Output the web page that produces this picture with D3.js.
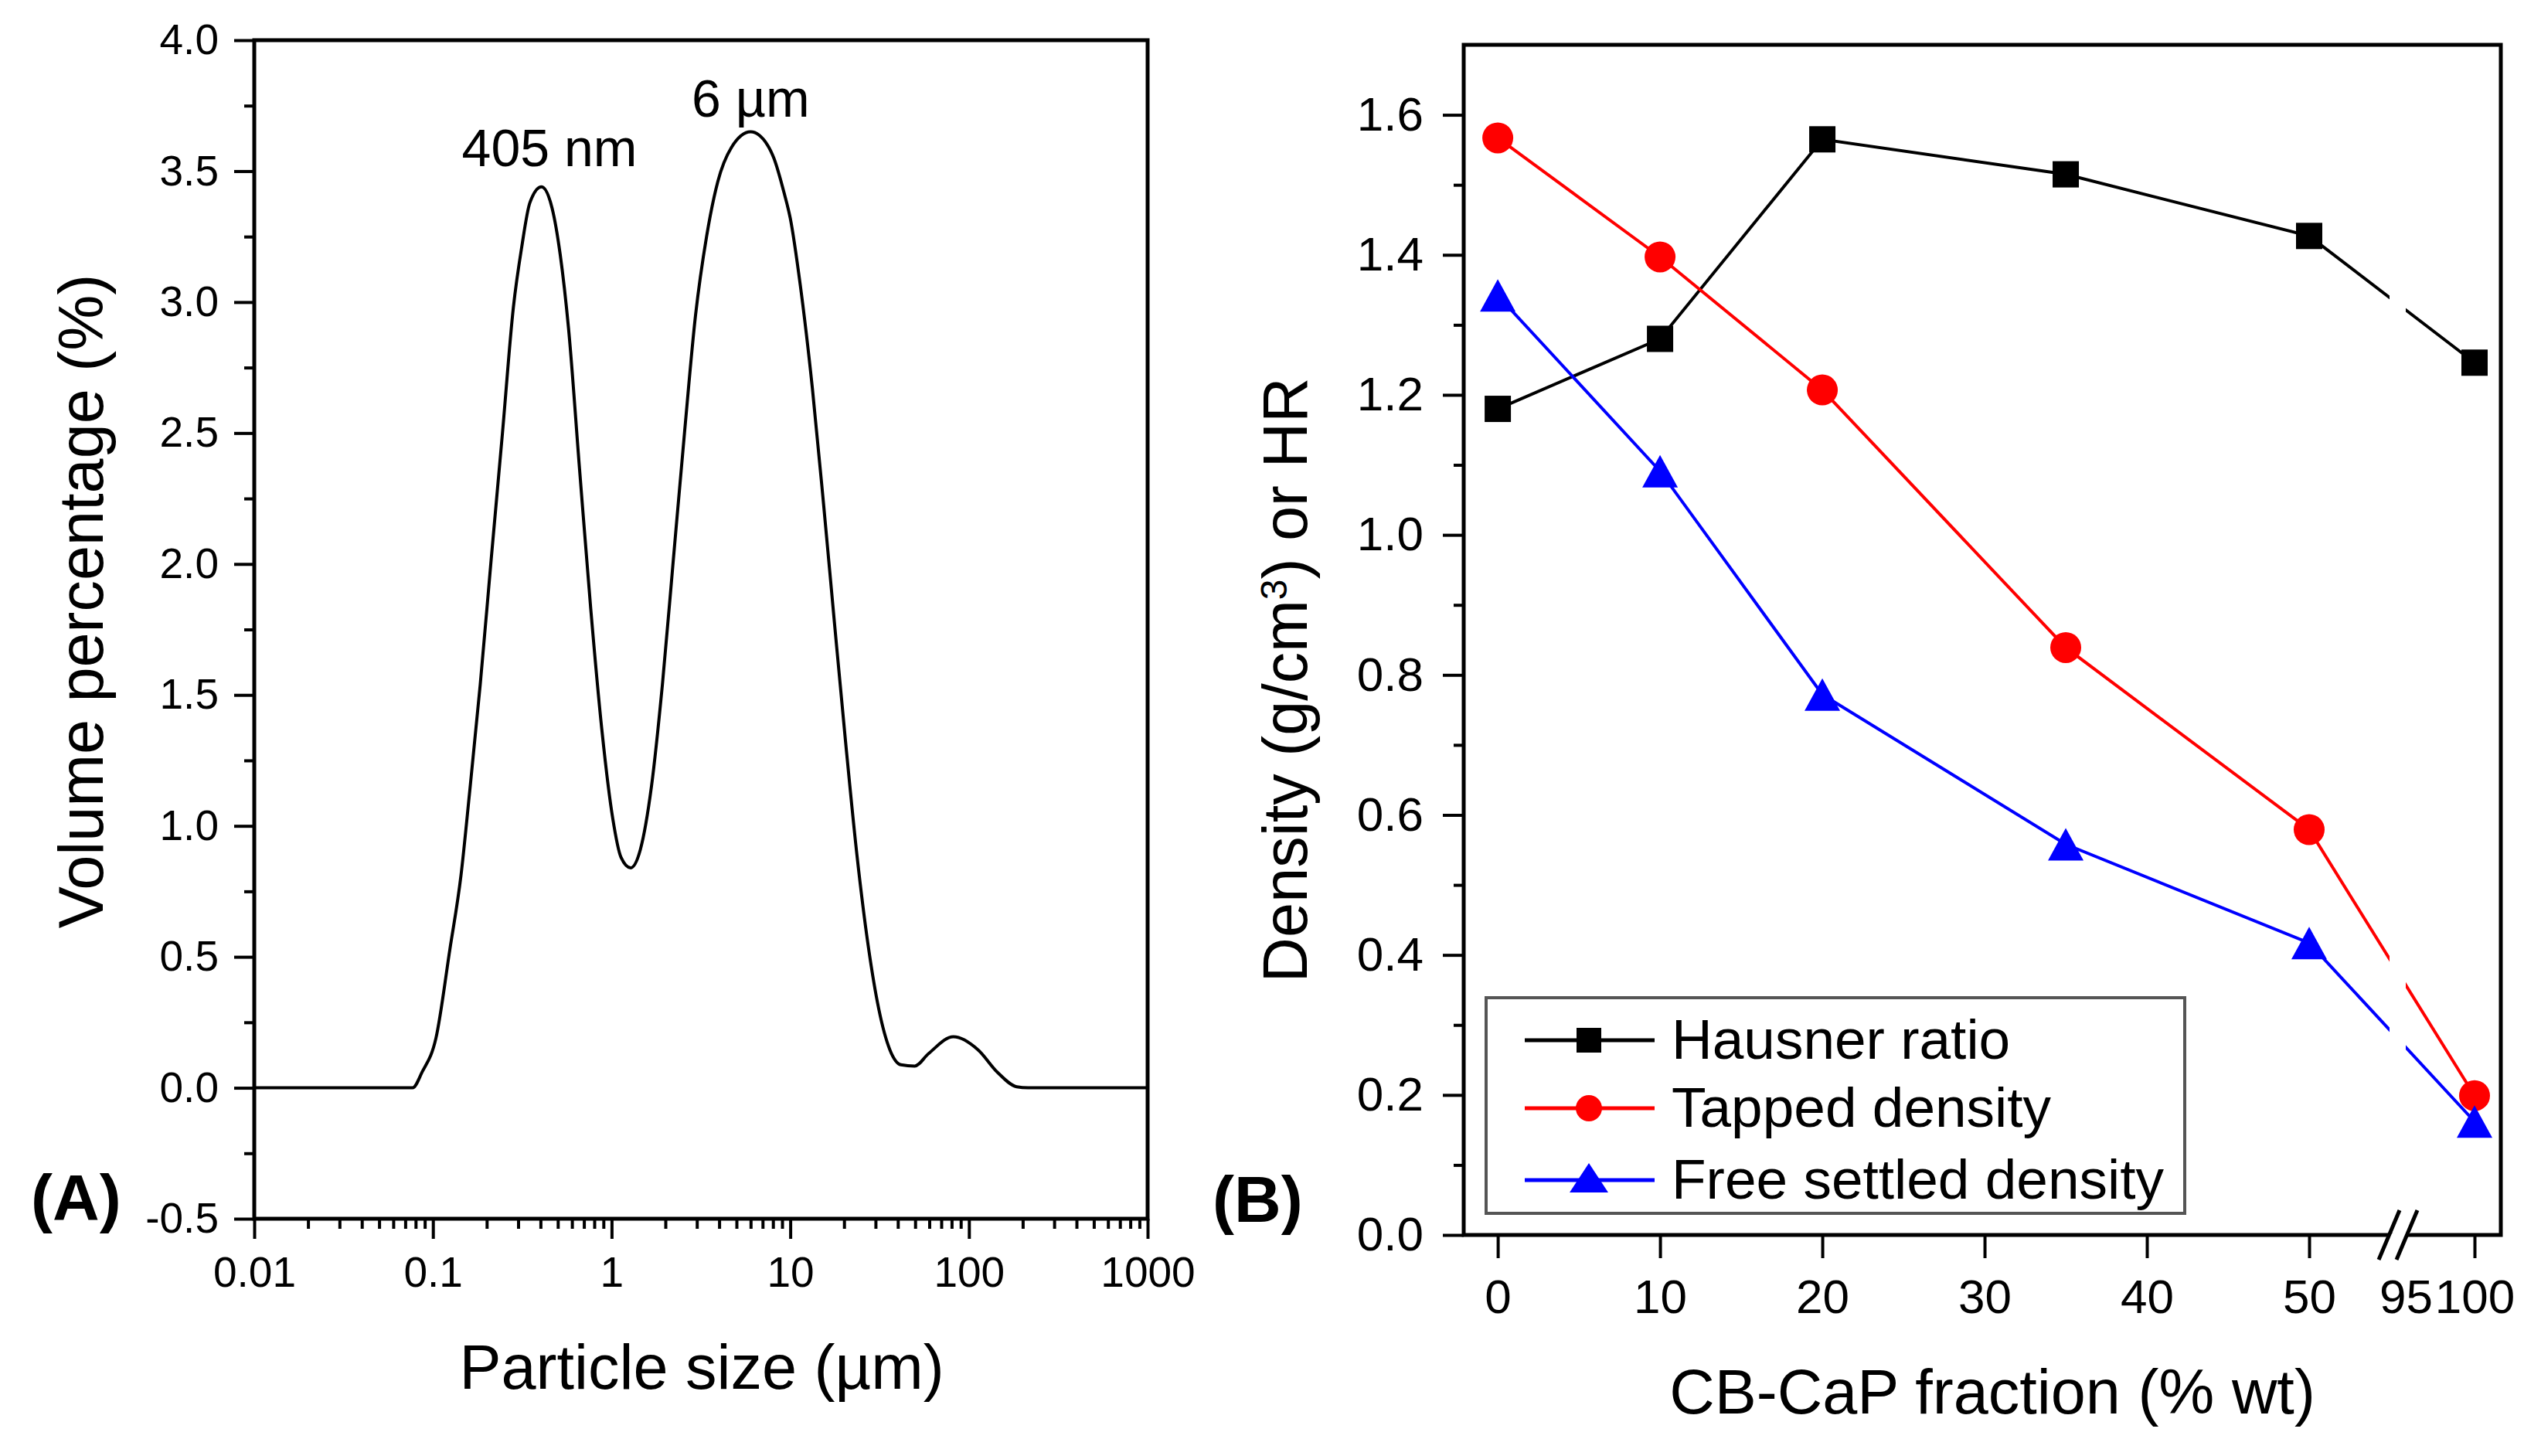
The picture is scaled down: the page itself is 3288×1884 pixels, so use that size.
<!DOCTYPE html>
<html><head><meta charset="utf-8">
<script src="https://cdn.jsdelivr.net/npm/d3@7"></script>
<style>
html,body{margin:0;padding:0;background:#fff;}
svg{display:block;}
text{font-family:"Liberation Sans", Arial, sans-serif; fill:#000;}
</style>
</head><body>
<svg id="chart" width="3288" height="1884"></svg>
<script>
// ---------- Panel A: particle size distribution ----------
const sizeUm = [0.01, 0.077, 0.087, 0.104, 0.1245, 0.1435, 0.160, 0.184, 0.212, 0.245, 0.282, 0.314, 0.349, 0.405, 0.464, 0.516, 0.574, 0.662, 0.764, 0.881, 1.014, 1.129, 1.279, 1.449, 1.671, 1.925, 2.218, 2.558, 2.95, 3.40, 3.93, 4.68, 6.0, 7.45, 8.09, 9.21, 10.0, 11.4, 13.3, 15.4, 17.7, 20.4, 23.6, 27.2, 31.3, 36.1, 41.6, 49.7, 59.3, 81.8, 112.5, 144, 185, 214, 1000];
const volumePct = [0, 0, 0.06, 0.19, 0.53, 0.81, 1.12, 1.54, 2.02, 2.50, 2.98, 3.21, 3.38, 3.44, 3.36, 3.18, 2.90, 2.36, 1.83, 1.37, 1.03, 0.88, 0.84, 0.91, 1.15, 1.54, 2.02, 2.50, 2.95, 3.25, 3.46, 3.59, 3.65, 3.60, 3.55, 3.42, 3.32, 3.06, 2.67, 2.22, 1.77, 1.32, 0.89, 0.55, 0.30, 0.145, 0.088, 0.083, 0.13, 0.195, 0.145, 0.06, 0.004, 0, 0];
const peakLabels = ["405 nm", "6 µm"];
const xTicksA = [0.01, 0.1, 1, 10, 100, 1000];
const yTicksA = [-0.5, 0.0, 0.5, 1.0, 1.5, 2.0, 2.5, 3.0, 3.5, 4.0];
const xTitleA = "Particle size (µm)";
const yTitleA = "Volume percentage (%)";

// ---------- Panel B: densities ----------
const cbFraction = [0, 10, 20, 35, 50, 100];
const hausner = [1.18, 1.28, 1.565, 1.515, 1.427, 1.246];
const tapped = [1.567, 1.397, 1.207, 0.839, 0.579, 0.199];
const freeSettled = [1.342, 1.091, 0.772, 0.558, 0.417, 0.162];
const seriesNames = ["Hausner ratio", "Tapped density", "Free settled density"];
const xTicksB = [0, 10, 20, 30, 40, 50, 95, 100];
const yTicksB = [0.0, 0.2, 0.4, 0.6, 0.8, 1.0, 1.2, 1.4, 1.6];
const xTitleB = "CB-CaP fraction (% wt)";

const svg = d3.select("#chart");
svg.append("rect").attr("width", 3288).attr("height", 1884).attr("fill", "#fff");

// ===== Panel A =====
const A = {l: 329, r: 1485, t: 52, b: 1577};
const xA = d3.scaleLog().domain([0.01, 1000]).range([A.l, A.r]);
const yA = d3.scaleLinear().domain([-0.5, 4.0]).range([A.b, A.t]);
const gA = svg.append("g");

function styleAxis(g, fs) {
  g.attr("font-family", null).attr("font-size", null);
  g.select(".domain").remove();
  g.selectAll("line").attr("stroke", "#000").attr("stroke-width", 4);
  g.selectAll("text").style("font-size", fs + "px").attr("fill", "#000");
}

// minor ticks A
const yMinorA = d3.range(-0.5, 4.0001, 0.25).filter(v => Math.abs((v * 2) % 1) > 1e-6);
gA.append("g").attr("transform", `translate(${A.l},0)`)
  .call(d3.axisLeft(yA).tickValues(yMinorA).tickSize(13).tickFormat(""))
  .call(g => styleAxis(g, 10));
const xMinorA = [];
for (let e = -2; e < 3; e++) for (let k = 2; k <= 9; k++) xMinorA.push(k * Math.pow(10, e));
gA.append("g").attr("transform", `translate(0,${A.b})`)
  .call(d3.axisBottom(xA).tickValues(xMinorA).tickSize(13).tickFormat(""))
  .call(g => styleAxis(g, 10));
// major ticks A
gA.append("g").attr("transform", `translate(${A.l},0)`)
  .call(d3.axisLeft(yA).tickValues(yTicksA).tickSize(26).tickPadding(20).tickFormat(d => d.toFixed(1)))
  .call(g => styleAxis(g, 55));
gA.append("g").attr("transform", `translate(0,${A.b})`)
  .call(d3.axisBottom(xA).tickValues(xTicksA).tickSize(26).tickPadding(23).tickFormat(d => String(d)))
  .call(g => styleAxis(g, 55));

// curve A
const curvePts = sizeUm.map((s, i) => ({s, v: volumePct[i]}));
gA.append("path").datum(curvePts)
  .attr("fill", "none").attr("stroke", "#000").attr("stroke-width", 4).attr("stroke-linejoin", "round")
  .attr("d", d3.line().x(d => xA(d.s)).y(d => yA(d.v)).curve(d3.curveMonotoneX));

// frame A
gA.append("rect").attr("x", A.l).attr("y", A.t).attr("width", A.r - A.l).attr("height", A.b - A.t)
  .attr("fill", "none").attr("stroke", "#000").attr("stroke-width", 5);

// peak annotations
gA.append("text").attr("x", 711).attr("y", 215).attr("text-anchor", "middle").style("font-size", "68px").text(peakLabels[0]);
gA.append("text").attr("x", 895).attr("y", 151).attr("text-anchor", "start").style("font-size", "68px").text(peakLabels[1]);

// titles A
gA.append("text").attr("transform", "translate(133,778) rotate(-90)").attr("text-anchor", "middle")
  .style("font-size", "81px").text(yTitleA);
gA.append("text").attr("x", 908).attr("y", 1797).attr("text-anchor", "middle")
  .style("font-size", "81px").text(xTitleA);
gA.append("text").attr("x", 40).attr("y", 1579).style("font-size", "84px").style("font-weight", "bold").text("(A)");

// ===== Panel B =====
const B = {l: 1894, r: 3236, t: 58, b: 1598};
const xB = d3.scaleLinear().domain([-2.1, 50, 95, 100, 101.9]).range([B.l, 2988, 3113, 3202, B.r]);
const yB = d3.scaleLinear().domain([0, 1.7]).range([B.b, B.t]);
const gB = svg.append("g");

const yMinorB = d3.range(0.1, 1.7, 0.2);
gB.append("g").attr("transform", `translate(${B.l},0)`)
  .call(d3.axisLeft(yB).tickValues(yMinorB).tickSize(13).tickFormat(""))
  .call(g => styleAxis(g, 10));
gB.append("g").attr("transform", `translate(${B.l},0)`)
  .call(d3.axisLeft(yB).tickValues(yTicksB).tickSize(27).tickPadding(25).tickFormat(d => d.toFixed(1)))
  .call(g => styleAxis(g, 62));
const xAxB = gB.append("g").attr("transform", `translate(0,${B.b})`)
  .call(d3.axisBottom(xB).tickValues(xTicksB).tickSize(30).tickPadding(27).tickFormat(d => String(d)))
  .call(g => styleAxis(g, 62));
// the 95 tick sits under the axis break: keep its label only
xAxB.selectAll(".tick").filter(d => d === 95).select("line").remove();

// break position
const brkR = xB(95), brkL = brkR - 21;

// clip path that leaves out the break band
const clip = svg.append("defs").append("clipPath").attr("id", "brkclip");
clip.append("rect").attr("x", B.l).attr("y", B.t).attr("width", brkL - B.l).attr("height", B.b - B.t);
clip.append("rect").attr("x", brkR).attr("y", B.t).attr("width", B.r - brkR).attr("height", B.b - B.t);

const series = [
  {name: seriesNames[0], vals: hausner, color: "#000000", shape: "square"},
  {name: seriesNames[1], vals: tapped, color: "#ff0000", shape: "circle"},
  {name: seriesNames[2], vals: freeSettled, color: "#0000ff", shape: "triangle"}
];

const lineB = d3.line().x(d => xB(d.x)).y(d => yB(d.v));
series.forEach(s => {
  const pts = cbFraction.map((x, i) => ({x, v: s.vals[i]}));
  gB.append("path").datum(pts).attr("clip-path", "url(#brkclip)")
    .attr("fill", "none").attr("stroke", s.color).attr("stroke-width", 4).attr("d", lineB);
});

function marker(g, shape, cx, cy, color, sz) {
  if (shape === "square") {
    g.append("rect").attr("x", cx - sz.sq / 2).attr("y", cy - sz.sq / 2).attr("width", sz.sq).attr("height", sz.sq).attr("fill", color);
  } else if (shape === "circle") {
    g.append("circle").attr("cx", cx).attr("cy", cy).attr("r", sz.r).attr("fill", color);
  } else {
    const w = sz.tw, h = sz.th;
    g.append("path").attr("d", `M${cx},${cy - h / 2}L${cx + w / 2},${cy + h / 2}L${cx - w / 2},${cy + h / 2}Z`).attr("fill", color);
  }
}
const plotSz = {sq: 34, r: 20, tw: 46, th: 42};
series.forEach(s => {
  cbFraction.forEach((x, i) => marker(gB, s.shape, xB(x), yB(s.vals[i]), s.color, plotSz));
});

// frame B
gB.append("rect").attr("x", B.l).attr("y", B.t).attr("width", B.r - B.l).attr("height", B.b - B.t)
  .attr("fill", "none").attr("stroke", "#000").attr("stroke-width", 5);

// axis break symbol
const s1 = brkL, s2 = brkR + 2;
gB.append("path").attr("d", `M${s1 - 13},${B.b + 8}L${s1 + 13},${B.b - 8}L${s2 + 13},${B.b - 8}L${s2 - 13},${B.b + 8}Z`).attr("fill", "#fff");
[s1, s2].forEach(cx => {
  gB.append("line").attr("x1", cx - 14).attr("y1", B.b + 32).attr("x2", cx + 13).attr("y2", B.b - 32)
    .attr("stroke", "#000").attr("stroke-width", 5);
});

// legend
const lg = gB.append("g");
lg.append("rect").attr("x", 1923).attr("y", 1291).attr("width", 904).attr("height", 279)
  .attr("fill", "#fff").attr("stroke", "#555").attr("stroke-width", 4);
const legSz = {sq: 32, r: 17, tw: 50, th: 38};
const legY = [1346, 1434, 1527];
series.forEach((s, i) => {
  lg.append("line").attr("x1", 1973).attr("x2", 2141).attr("y1", legY[i]).attr("y2", legY[i])
    .attr("stroke", s.color).attr("stroke-width", 5);
  marker(lg, s.shape, 2056, s.shape === "triangle" ? legY[i] - 3 : legY[i], s.color, legSz);
  lg.append("text").attr("x", 2163).attr("y", legY[i] + 24).style("font-size", "73px").text(s.name);
});

// titles B
const yt = gB.append("text").attr("transform", "translate(1691,880) rotate(-90)").attr("text-anchor", "middle").style("font-size", "81px");
yt.append("tspan").text("Density (g/cm");
yt.append("tspan").attr("baseline-shift", "super").style("font-size", "48px").text("3");
yt.append("tspan").text(") or HR");
gB.append("text").attr("x", 2578).attr("y", 1829).attr("text-anchor", "middle").style("font-size", "81px").text(xTitleB);
gB.append("text").attr("x", 1569).attr("y", 1581).style("font-size", "84px").style("font-weight", "bold").text("(B)");
</script>
</body></html>
